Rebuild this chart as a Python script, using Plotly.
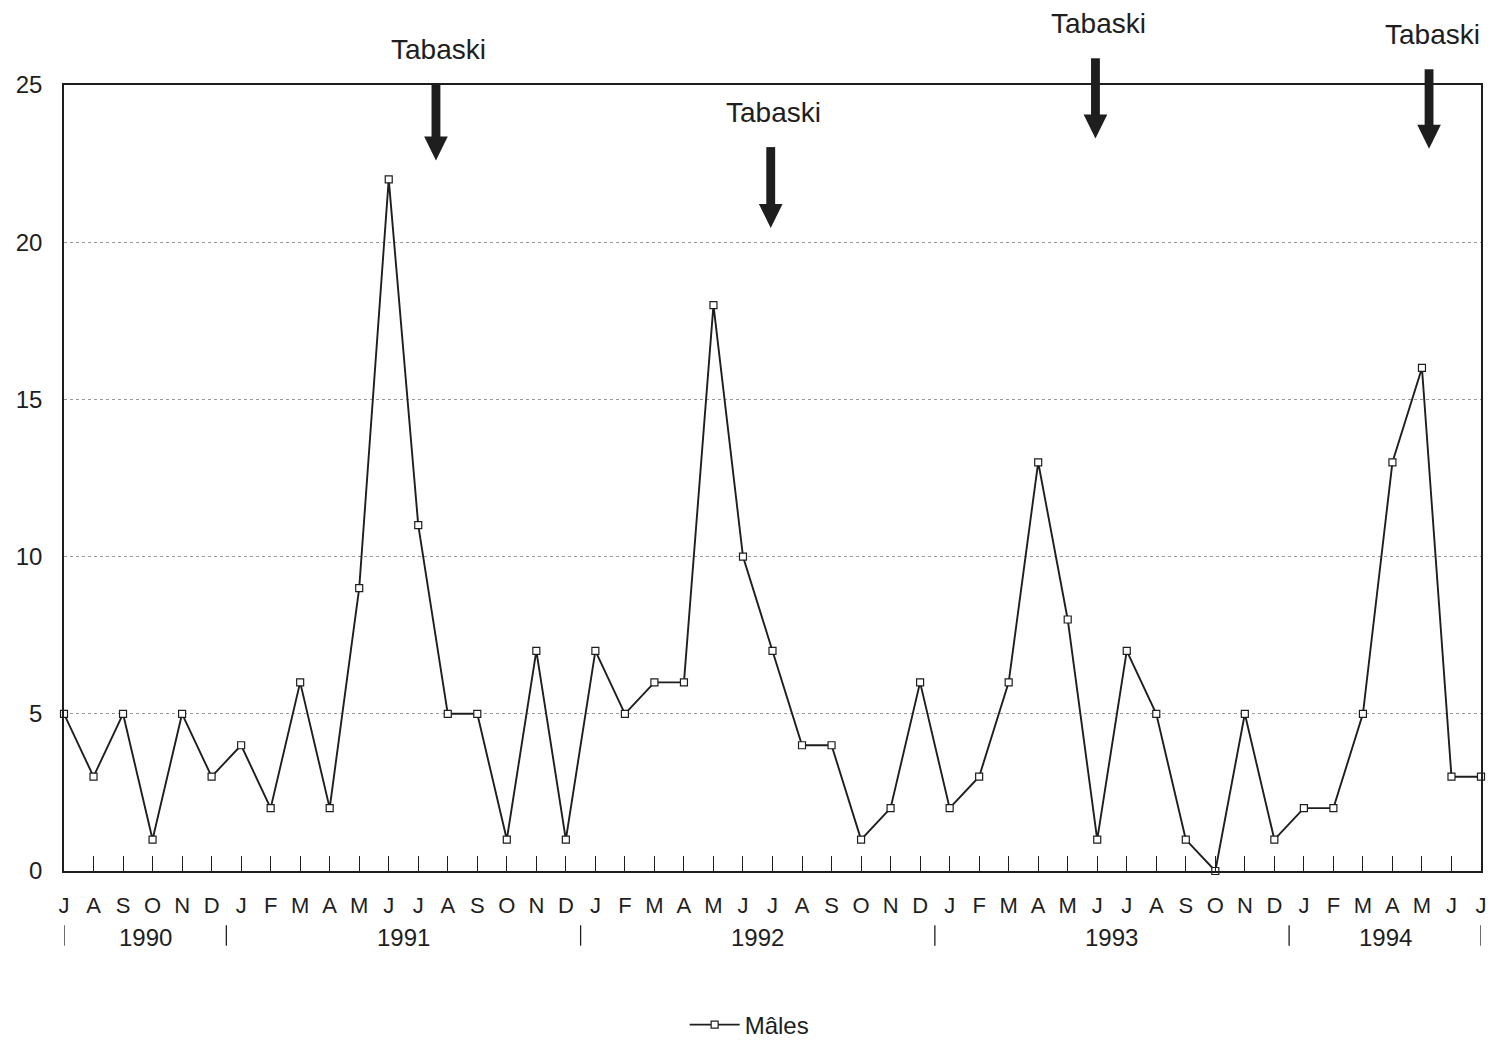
import plotly.graph_objects as go

# ---- data ----
month_labels = ["J", "A", "S", "O", "N", "D",
                "J", "F", "M", "A", "M", "J", "J", "A", "S", "O", "N", "D",
                "J", "F", "M", "A", "M", "J", "J", "A", "S", "O", "N", "D",
                "J", "F", "M", "A", "M", "J", "J", "A", "S", "O", "N", "D",
                "J", "F", "M", "A", "M", "J", "J"]
males = [5, 3, 5, 1, 5, 3,
         4, 2, 6, 2, 9, 22, 11, 5, 5, 1, 7, 1,
         7, 5, 6, 6, 18, 10, 7, 4, 4, 1, 2, 6,
         2, 3, 6, 13, 8, 1, 7, 5, 1, 0, 5, 1,
         2, 2, 5, 13, 16, 3, 3]
years = ["1990", "1991", "1992", "1993", "1994"]
year_start = [0, 5.5, 17.5, 29.5, 41.5]
year_end = [5.5, 17.5, 29.5, 41.5, 48]
# Tabaski arrows: month position, arrow top and tip (paper units)
tabaski_x = [12.6, 23.94, 34.94, 46.24]
tabaski_top = [1.0, 0.921, 1.034, 1.020]
tabaski_tip = [0.904, 0.818, 0.932, 0.919]

x = list(range(len(males)))
INK = "#1e1e1e"
FONT = "Liberation Sans, Arial, sans-serif"

fig = go.Figure()
fig.add_trace(go.Scatter(
    x=x, y=males, mode="lines+markers", name="Mâles",
    line=dict(color=INK, width=1.9),
    marker=dict(symbol="square", size=7, color="white",
                line=dict(color=INK, width=1.2)),
    cliponaxis=False,
))

shapes = []
annotations = []

# year separators and labels
sep_positions = sorted(set(year_start + year_end))
for sx in sep_positions:
    shapes.append(dict(type="line", xref="x", yref="paper", x0=sx, x1=sx,
                       y0=-0.069, y1=-0.095, line=dict(color=INK, width=1.3)))
for yl, a, b in zip(years, year_start, year_end):
    annotations.append(dict(text=yl, xref="x", yref="paper", x=(a + b) / 2, y=-0.084,
                            showarrow=False, yanchor="middle",
                            font=dict(family=FONT, size=24, color=INK)))

# Tabaski arrows
px = 1.0 / 786.0
for tx, top, tip in zip(tabaski_x, tabaski_top, tabaski_tip):
    head_h = 24 * px
    shaft_hw = 0.15
    head_hw = 0.40
    base = tip + head_h
    shapes.append(dict(type="rect", xref="x", yref="paper",
                       x0=tx - shaft_hw, x1=tx + shaft_hw, y0=base - 0.002, y1=top,
                       fillcolor=INK, line=dict(width=0)))
    shapes.append(dict(type="path", xref="x", yref="paper",
                       path=f"M {tx - head_hw} {base} L {tx + head_hw} {base} L {tx} {tip} Z",
                       fillcolor=INK, line=dict(width=0)))
    annotations.append(dict(text="Tabaski", xref="x", yref="paper", x=tx + 0.1,
                            y=top + 35 * px, showarrow=False, yanchor="middle",
                            font=dict(family=FONT, size=28, color=INK)))

fig.update_layout(
    width=1492, height=1035,
    margin=dict(l=56, r=19, t=77, b=172, autoexpand=False),
    paper_bgcolor="white", plot_bgcolor="white",
    font=dict(family=FONT, color=INK),
    shapes=shapes, annotations=annotations,
    showlegend=True,
    legend=dict(orientation="h", x=0.438, xanchor="left", y=-0.196, yanchor="middle",
                font=dict(family=FONT, size=24, color=INK), itemwidth=50,
                bgcolor="rgba(0,0,0,0)"),
    xaxis=dict(range=[0, 48], tickmode="array", tickvals=x, ticktext=month_labels,
               ticks="inside", ticklen=15, tickwidth=1.3, tickcolor=INK,
               showline=True, mirror=True, linecolor=INK, linewidth=1.5,
               showgrid=False, zeroline=False, ticklabelstandoff=14,
               tickfont=dict(family=FONT, size=22, color=INK)),
    yaxis=dict(range=[0, 25], tickmode="array", tickvals=[0, 5, 10, 15, 20, 25],
               showline=True, mirror=True, linecolor=INK, linewidth=1.5,
               showgrid=True, gridcolor="#9a9a9a", griddash="dot", gridwidth=1,
               zeroline=False, ticks="", ticklabelstandoff=15,
               tickfont=dict(family=FONT, size=24, color=INK)),
)

fig.write_html("out.html")
